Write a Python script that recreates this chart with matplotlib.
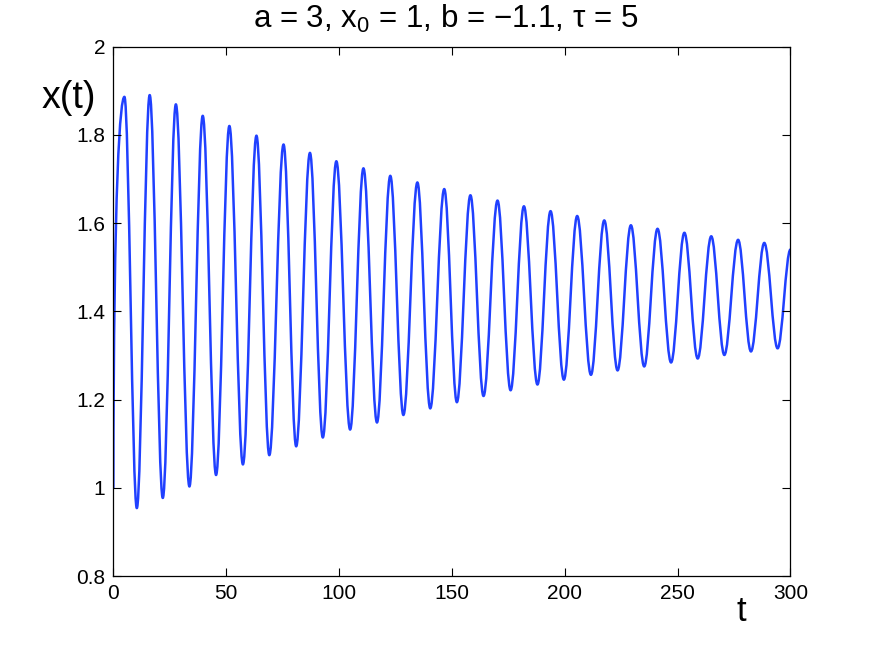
import numpy as np
import matplotlib
matplotlib.use("Agg")
import matplotlib.pyplot as plt
from matplotlib.path import Path
from matplotlib.patches import PathPatch

plt.rcParams["font.family"] = ["Liberation Sans", "DejaVu Sans"]
plt.rcParams["mathtext.fontset"] = "custom"
plt.rcParams["mathtext.rm"] = "Liberation Sans"
plt.rcParams["mathtext.it"] = "Liberation Sans"

# values
start_t, start_x = 0.0, 1.0
end_t, end_x = 300.0, 1.540

peak_t = [4.9, 16.1, 27.7, 39.6, 51.4, 63.4, 75.4, 87.1, 98.8, 110.8,
          122.7, 134.7, 146.6, 158.2, 170.2, 181.9, 193.7, 205.5, 217.5,
          229.3, 241.1, 253.0, 264.9, 276.8, 288.4]
peak_x = [1.886, 1.890, 1.869, 1.843, 1.820, 1.798, 1.778, 1.759, 1.740,
          1.724, 1.707, 1.692, 1.677, 1.663, 1.651, 1.638, 1.627, 1.616,
          1.606, 1.595, 1.587, 1.578, 1.570, 1.562, 1.555]

trough_t = [10.4, 21.9, 33.7, 45.5, 57.4, 69.1, 81.0, 92.8, 104.9, 116.8,
            128.5, 140.4, 152.2, 164.0, 176.0, 187.9, 199.6, 211.6, 223.4,
            235.2, 247.1, 258.9, 270.7, 282.5, 294.3]
trough_x = [0.954, 0.977, 1.003, 1.029, 1.053, 1.074, 1.094, 1.114, 1.132,
            1.148, 1.165, 1.180, 1.194, 1.208, 1.221, 1.234, 1.245, 1.256,
            1.266, 1.275, 1.284, 1.293, 1.301, 1.309, 1.316]

x_ticks = [0, 50, 100, 150, 200, 250, 300]
y_ticks = [0.8, 1.0, 1.2, 1.4, 1.6, 1.8, 2.0]
y_tick_labels = ["0.8", "1", "1.2", "1.4", "1.6", "1.8", "2"]

line_color = "#2040ff"

# extremes in time order
knots_t = [start_t]
knots_x = [start_x]
for i in range(len(peak_t)):
    knots_t += [peak_t[i], trough_t[i]]
    knots_x += [peak_x[i], trough_x[i]]
knots_t.append(end_t)
knots_x.append(end_x)

# smooth bezier segments with flat tangents at each extreme
k = 0.36
verts = [(knots_t[0], knots_x[0])]
codes = [Path.MOVETO]
for i in range(len(knots_t) - 1):
    t0, x0 = knots_t[i], knots_x[i]
    t1, x1 = knots_t[i + 1], knots_x[i + 1]
    dt = t1 - t0
    if i == 0:
        # steep rise from the initial value
        c1 = (t0 + 0.02 * dt, x0 + 0.8 * (x1 - x0))
    else:
        c1 = (t0 + k * dt, x0)
    c2 = (t1 - k * dt, x1)
    verts += [c1, c2, (t1, x1)]
    codes += [Path.CURVE4] * 3

fig = plt.figure(figsize=(8.72, 6.48), dpi=100)
ax = fig.add_axes([0.13, 0.111, 0.7765, 0.8172])

patch = PathPatch(Path(verts, codes), facecolor="none", edgecolor=line_color,
                  linewidth=1.8, capstyle="round", joinstyle="round")
ax.add_patch(patch)

ax.set_xlim(0, 300)
ax.set_ylim(0.8, 2.0)
ax.set_xticks(x_ticks)
ax.set_xticklabels([str(v) for v in x_ticks])
ax.set_yticks(y_ticks)
ax.set_yticklabels(y_tick_labels)
ax.tick_params(direction="in", top=True, right=True, length=6, width=0.8,
               labelsize=15, pad=6)
for s in ax.spines.values():
    s.set_linewidth(0.9)

fig.text(0.511, 0.957, r"a = 3, x$_{0}$ = 1, b = $-$1.1, $\tau$ = 5",
         fontsize=22.5, ha="center", va="baseline")
fig.text(0.079, 0.849, "x(t)", fontsize=27, ha="center", va="center")
fig.text(0.850, 0.057, "t", fontsize=25, ha="center", va="center")

fig.savefig("out.png", dpi=100)
